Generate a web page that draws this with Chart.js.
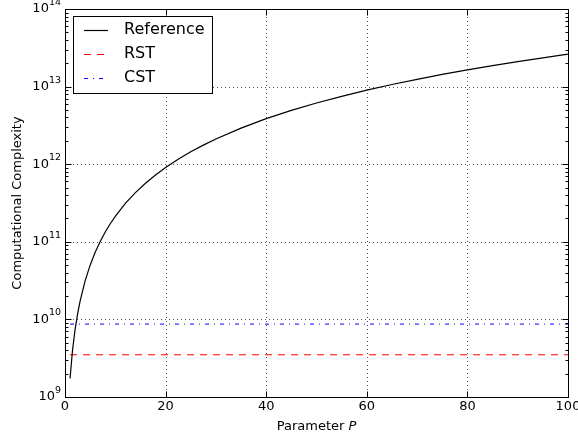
<!DOCTYPE html>
<html>
<head>
<meta charset="utf-8">
<script src="https://cdn.jsdelivr.net/npm/chart.js@4"></script>
<style>
html,body{margin:0;padding:0;background:#fff;}
canvas{display:block;}
</style>
</head>
<body>
<canvas id="c" width="578" height="441"></canvas>
<script>
// ---- data ----
const paramP = [1,1.5,2,2.5,3,4,5,6,7,8,9,10,12,14,16,18,20,22.5,25,27.5,30,35,40,45,50,55,60,65,70,75,80,85,90,95,100];
const referenceValues = [1.73e9,4.04e9,7.37e9,1.17e10,1.72e10,3.14e10,5.00e10,7.32e10,1.01e11,1.335e11,1.71e11,2.13e11,3.12e11,4.30e11,5.68e11,7.27e11,9.06e11,1.157e12,1.444e12,1.76e12,2.11e12,2.92e12,3.86e12,4.93e12,6.15e12,7.50e12,9.00e12,1.064e13,1.242e13,1.435e13,1.642e13,1.864e13,2.10e13,2.35e13,2.62e13];
const rstP = [1,100];
const rstValues = [3.5e9,3.5e9];
const cstP = [1,100];
const cstValues = [8.7e9,8.7e9];
const xTicks = [0,20,40,60,80,100];
const yTicks = [1e9,1e10,1e11,1e12,1e13,1e14];
const seriesNames = ['Reference','RST','CST'];

const FONT = '"DejaVu Sans", sans-serif';

function pts(xs, ys){ return xs.map((x,i)=>({x:x, y:ys[i]})); }

const styles = [
  {color:'#000000', dash:[], width:1.2},
  {color:'#ff0000', dash:[7,6], width:1},
  {color:'#0000ff', dash:[4,5,1,5], width:1}
];

const decor = {
  id:'decor',
  beforeDatasetsDraw(chart){
    const ctx = chart.ctx, a = chart.chartArea;
    const xs = chart.scales.x, ys = chart.scales.y;
    ctx.save();
    ctx.strokeStyle = '#555555';
    ctx.lineWidth = 1;
    ctx.setLineDash([1,3]);
    xTicks.forEach(v=>{
      if (v===xs.min || v===xs.max) return;
      const px = Math.round(xs.getPixelForValue(v))+0.5;
      ctx.beginPath(); ctx.moveTo(px,a.top); ctx.lineTo(px,a.bottom); ctx.stroke();
    });
    yTicks.forEach(v=>{
      if (v===ys.min || v===ys.max) return;
      const py = Math.round(ys.getPixelForValue(v))+0.5;
      ctx.beginPath(); ctx.moveTo(a.left,py); ctx.lineTo(a.right,py); ctx.stroke();
    });
    ctx.restore();
  },
  afterDatasetsDraw(chart){
    const ctx = chart.ctx, a = chart.chartArea;
    const xs = chart.scales.x, ys = chart.scales.y;
    ctx.save();
    ctx.setLineDash([]);
    ctx.strokeStyle = '#000';
    ctx.lineWidth = 1;
    const L = Math.round(a.left)+0.5, R = Math.round(a.right)+0.5, T = Math.round(a.top)+0.5, B = Math.round(a.bottom)+0.5;
    // ticks (inside)
    ctx.beginPath();
    xTicks.forEach(v=>{
      const px = Math.round(xs.getPixelForValue(v))+0.5;
      ctx.moveTo(px,B); ctx.lineTo(px,B-6);
      ctx.moveTo(px,T); ctx.lineTo(px,T+6);
    });
    yTicks.forEach((v,i)=>{
      const py = Math.round(ys.getPixelForValue(v))+0.5;
      ctx.moveTo(L,py); ctx.lineTo(L+6,py);
      ctx.moveTo(R,py); ctx.lineTo(R-6,py);
      if (i < yTicks.length-1){
        for (let m=2;m<=9;m++){
          const my = Math.round(ys.getPixelForValue(v*m))+0.5;
          ctx.moveTo(L,my); ctx.lineTo(L+3,my);
          ctx.moveTo(R,my); ctx.lineTo(R-3,my);
        }
      }
    });
    ctx.stroke();
    // frame
    ctx.strokeRect(L,T,R-L,B-T);

    // x tick labels
    ctx.fillStyle = '#000';
    ctx.font = '13px ' + FONT;
    ctx.textAlign = 'center';
    ctx.textBaseline = 'middle';
    xTicks.forEach(v=>{
      ctx.fillText(String(v), xs.getPixelForValue(v), a.bottom+10);
    });
    // y tick labels 10^n
    yTicks.forEach(v=>{
      const py = ys.getPixelForValue(v);
      const e = String(Math.round(Math.log10(v)));
      ctx.font = '9.5px ' + FONT;
      const we = ctx.measureText(e).width;
      const rightEdge = a.left - 4;
      ctx.textAlign = 'left';
      ctx.textBaseline = 'alphabetic';
      ctx.fillText(e, rightEdge - we, py - 4);
      ctx.font = '13px ' + FONT;
      ctx.textAlign = 'right';
      ctx.textBaseline = 'middle';
      ctx.fillText('10', rightEdge - we, py);
    });
    // axis titles
    ctx.textBaseline = 'middle';
    const cx = (a.left + a.right)/2;
    const t1 = 'Parameter ';
    ctx.font = '13px ' + FONT;
    const w1 = ctx.measureText(t1).width;
    ctx.font = 'italic 13px ' + FONT;
    const w2 = ctx.measureText('P').width;
    const sx = cx - (w1+w2)/2;
    ctx.textAlign = 'left';
    ctx.font = '13px ' + FONT;
    ctx.fillText(t1, sx, 427);
    ctx.font = 'italic 13px ' + FONT;
    ctx.fillText('P', sx + w1, 427);

    ctx.save();
    ctx.translate(18, (a.top + a.bottom)/2);
    ctx.rotate(-Math.PI/2);
    ctx.textAlign = 'center';
    ctx.font = '13px ' + FONT;
    ctx.fillText('Computational Complexity', 0, 0);
    ctx.restore();

    // legend
    const lx = 73.5, ly = 16.5, lw = 139, lh = 77;
    ctx.fillStyle = '#fff';
    ctx.fillRect(lx, ly, lw, lh);
    ctx.strokeStyle = '#000';
    ctx.lineWidth = 1;
    ctx.strokeRect(lx, ly, lw, lh);
    const rows = [30, 53.5, 78];
    seriesNames.forEach((name,i)=>{
      const s = styles[i];
      ctx.save();
      ctx.strokeStyle = s.color;
      ctx.lineWidth = s.width;
      ctx.setLineDash(s.dash);
      ctx.beginPath();
      ctx.moveTo(84, Math.round(rows[i])+0.5);
      ctx.lineTo(108, Math.round(rows[i])+0.5);
      ctx.stroke();
      ctx.restore();
      ctx.fillStyle = '#000';
      ctx.font = '16px ' + FONT;
      ctx.textAlign = 'left';
      ctx.textBaseline = 'middle';
      ctx.fillText(name, 124, rows[i]);
    });
    ctx.restore();
  }
};

const datasets = [
  {label:seriesNames[0], data:pts(paramP, referenceValues)},
  {label:seriesNames[1], data:pts(rstP, rstValues)},
  {label:seriesNames[2], data:pts(cstP, cstValues)}
].map((d,i)=>Object.assign(d,{
  borderColor: styles[i].color,
  borderWidth: styles[i].width,
  borderDash: styles[i].dash,
  pointRadius: 0,
  fill: false,
  tension: 0
}));

new Chart(document.getElementById('c'), {
  type:'line',
  data:{datasets},
  options:{
    responsive:false,
    animation:false,
    devicePixelRatio:1,
    layout:{padding:{left:0, top:9, right:10, bottom:0}},
    plugins:{legend:{display:false}, tooltip:{enabled:false}},
    scales:{
      x:{type:'linear', min:0, max:100,
         grid:{display:false}, border:{display:false},
         ticks:{display:false},
         afterFit(s){ s.height = 44; }},
      y:{type:'logarithmic', min:1e9, max:1e14,
         grid:{display:false}, border:{display:false},
         ticks:{display:false},
         afterFit(s){ s.width = 65; }}
    }
  },
  plugins:[decor]
});
</script>
</body>
</html>
